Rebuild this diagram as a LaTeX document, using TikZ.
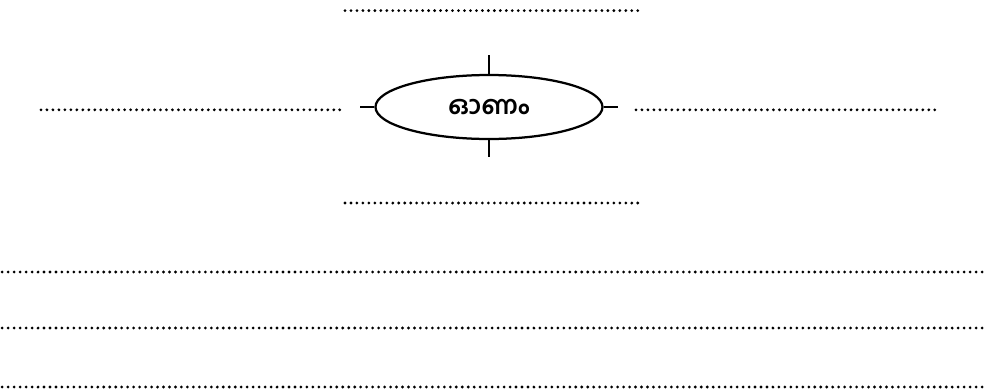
\documentclass[tikz,border=0pt]{standalone}
\usepackage{fontspec}
\newfontfamily\malfont[Script=Malayalam]{Hind Kochi}
\usetikzlibrary{shapes.geometric}

\begin{document}
\begin{tikzpicture}
\tikzset{bulle/.style={draw, ellipse, line width=1.6pt, minimum width=5.675cm, minimum height=1.6cm, inner sep=0pt}}
\tikzset{trait/.style={line width=1.3pt}}
\tikzset{pointilles/.style={line width=2.2pt, line cap=round, dash pattern=on 0pt off 4.25pt}}
\useasboundingbox (-12.225, -7.1) rectangle (12.425, 2.675);
\node[bulle] (onam) at (0,0) {\malfont\bfseries\fontsize{18}{22}\selectfont ഓണം};
\coordinate (haut) at (0, 1.3);
\coordinate (bas) at (0, -1.25);
\coordinate (gauche) at (-3.225, 0);
\coordinate (droite) at (3.225, 0);
\draw[trait] (onam.north) -- (haut);
\draw[trait] (onam.south) -- (bas);
\draw[trait] (onam.west) -- (gauche);
\draw[trait] (onam.east) -- (droite);
\draw[pointilles] (-3.6, 2.41) -- (3.85, 2.41);
\draw[pointilles] (-11.2, -0.07) -- (-3.725, -0.07);
\draw[pointilles] (3.675, -0.07) -- (11.15, -0.07);
\draw[pointilles] (-3.6, -2.4) -- (3.85, -2.4);
\draw[pointilles] (-12.17, -4.125) -- (12.4, -4.125);
\draw[pointilles] (-12.17, -5.525) -- (12.4, -5.525);
\draw[pointilles] (-12.17, -7.0) -- (12.4, -7.0);
\end{tikzpicture}
\end{document}
